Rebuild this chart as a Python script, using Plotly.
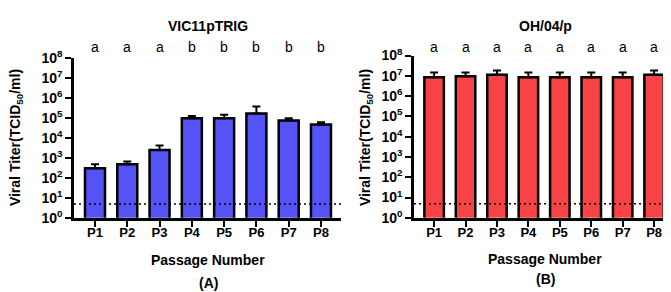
import plotly.graph_objects as go

passages = ["P1", "P2", "P3", "P4", "P5", "P6", "P7", "P8"]
vic_titer = [310, 490, 2500, 1.0e5, 1.0e5, 1.7e5, 7.6e4, 4.8e4]
vic_upper = [490, 680, 4300, 1.3e5, 1.5e5, 3.9e5, 1.0e5, 6.3e4]
oh_titer = [8.5e6, 9.5e6, 1.12e7, 8.5e6, 8.5e6, 8.5e6, 8.5e6, 1.12e7]
oh_upper = [1.45e7, 1.45e7, 1.85e7, 1.45e7, 1.45e7, 1.45e7, 1.45e7, 1.85e7]
vic_letters = ["a", "a", "a", "b", "b", "b", "b", "b"]
oh_letters = ["a", "a", "a", "a", "a", "a", "a", "a"]
detection_limit = 5
ytick_vals = [10 ** i for i in range(9)]
ytick_text = [f"10<sup>{i}</sup>" for i in range(9)]

W, H = 671, 292
FONT = "Liberation Sans, Arial, sans-serif"


def px_x(p):
    return p / W


def px_y(p):
    return 1 - p / H


fig = go.Figure()

for vals, upper, color, xa, ya in [
    (vic_titer, vic_upper, "#5353F6", "x", "y"),
    (oh_titer, oh_upper, "#F84346", "x2", "y2"),
]:
    fig.add_trace(go.Bar(
        x=passages, y=vals, xaxis=xa, yaxis=ya, width=0.62,
        marker=dict(color=color, line=dict(color="black", width=2.5)),
        error_y=dict(type="data", symmetric=False,
                     array=[u - v for u, v in zip(upper, vals)],
                     arrayminus=[0] * len(vals),
                     color="black", thickness=2, width=4),
        showlegend=False,
    ))

axis_common = dict(showline=True, linecolor="black", linewidth=2.5,
                   ticks="outside", ticklen=6, tickwidth=2, tickcolor="black",
                   showgrid=False, zeroline=False)
xfont = dict(family=FONT, size=13, color="black", weight="bold")
yfont = dict(family=FONT, size=14, color="black", weight="bold")

fig.update_layout(
    width=W, height=H, margin=dict(l=0, r=0, t=0, b=0),
    plot_bgcolor="white", paper_bgcolor="white", showlegend=False,
    xaxis=dict(domain=[px_x(66), px_x(333)], range=[-0.65, 7.62], anchor="y",
               tickfont=xfont, ticklabelstandoff=-5, **axis_common),
    xaxis2=dict(domain=[px_x(406), px_x(670)], range=[-0.64, 7.76], anchor="y2",
                tickfont=xfont, ticklabelstandoff=-5, **axis_common),
    yaxis=dict(domain=[px_y(213), px_y(43)], type="log", range=[0, 8], anchor="x",
               tickvals=ytick_vals, ticktext=ytick_text, ticklabelstandoff=0,
               tickfont=yfont, **axis_common),
    yaxis2=dict(domain=[px_y(213), px_y(40)], type="log", range=[0, 8], anchor="x2",
                tickvals=ytick_vals, ticktext=ytick_text, ticklabelstandoff=0,
                tickfont=yfont, **axis_common),
)

for xr, yr in [("x", "y"), ("x2", "y2")]:
    fig.add_shape(type="line", xref=f"{xr} domain", yref=yr, x0=0, x1=1,
                  y0=detection_limit, y1=detection_limit,
                  line=dict(color="black", width=1.6, dash="2px,3px"))

bold = dict(family=FONT, color="black", weight="bold")
for letters, xr in [(vic_letters, "x"), (oh_letters, "x2")]:
    for p, l in zip(passages, letters):
        fig.add_annotation(x=p, xref=xr, y=px_y(31), yref="paper", text=l,
                           showarrow=False, yanchor="middle",
                           font=dict(family=FONT, color="black", size=14))

texts = [
    ("VIC11pTRIG", 200, 8, 14, 0),
    ("OH/04/p", 537, 8, 14, 0),
    ("Passage Number", 200, 258, 14, 0),
    ("Passage Number", 537, 257, 14, 0),
    ("(A)", 200, 282, 14, 0),
    ("(B)", 537, 278, 14, 0),
    ("Viral Titer(TCID<sub>50</sub>/ml)", 8, 128, 14, -90),
    ("Viral Titer(TCID<sub>50</sub>/ml)", 358, 128, 14, -90),
]
for t, x, y, s, ang in texts:
    fig.add_annotation(x=px_x(x), y=px_y(y), xref="paper", yref="paper", text=t,
                       showarrow=False, xanchor="center", yanchor="middle",
                       textangle=ang, font=dict(size=s, **bold))

fig.write_html("out.html")
